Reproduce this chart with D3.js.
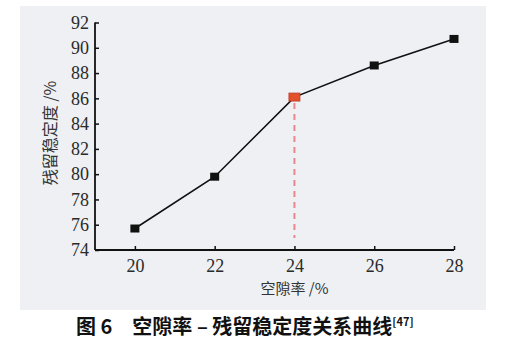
<!DOCTYPE html>
<html><head><meta charset="utf-8">
<script src="https://cdn.jsdelivr.net/npm/d3@7"></script>
<style>
html,body{margin:0;padding:0;background:#fff;}svg{display:block;}
.tick text{font-family:"Liberation Serif","Times New Roman","DejaVu Serif",serif !important;}
</style>
</head><body>
<svg id="c" width="507" height="357"></svg>
<script>
const voidRatio = [20, 22, 24, 26, 28];
const stability = [75.7, 79.8, 86.1, 88.6, 90.7];
const xTicks = [20, 22, 24, 26, 28];
const yTicks = [74, 76, 78, 80, 82, 84, 86, 88, 90, 92];
const highlightIndex = 2;
const xTitle = "空隙率 /%";
const yTitle = "残留稳定度 /%";
const caption = "图 6　空隙率 – 残留稳定度关系曲线";
const captionRef = "[47]";

const svg = d3.select("#c");
svg.append("rect").attr("x", 20).attr("y", 6).attr("width", 466).attr("height", 304).attr("fill", "#eef0f4");

const x = d3.scaleLinear().domain([19, 28]).range([95, 454]);
const y = d3.scaleLinear().domain([74, 92]).range([250, 22.5]);

const gx = svg.append("g").attr("transform", "translate(0,250)")
  .call(d3.axisBottom(x).tickValues(xTicks).tickSize(-4).tickPadding(9).tickFormat(d3.format("d")));
const gy = svg.append("g").attr("transform", "translate(95,0)")
  .call(d3.axisLeft(y).tickValues(yTicks).tickSize(-4).tickPadding(6).tickFormat(d3.format("d")));
[gx, gy].forEach(g => {
  g.attr("font-size", 18);
  g.select(".domain").attr("stroke", "#111").attr("stroke-width", 1.8);
  g.selectAll(".tick line").attr("stroke", "#111").attr("stroke-width", 1.5);
  g.selectAll(".tick text").attr("fill", "#2a2a2a").attr("font-size", 18);
});
gx.select(".domain").attr("d", "M95,0H454");
gy.select(".domain").attr("d", "M0,250V22.5");

const pts = voidRatio.map((v, i) => ({ v, s: stability[i], i }));
const hp = pts[highlightIndex];
svg.append("line").attr("x1", x(hp.v)).attr("x2", x(hp.v)).attr("y1", y(hp.s) + 6).attr("y2", 238)
  .attr("stroke", "#e8888c").attr("stroke-width", 2).attr("stroke-dasharray", "6,5");

svg.append("path").datum(pts)
  .attr("d", d3.line().x(d => x(d.v)).y(d => y(d.s)))
  .attr("fill", "none").attr("stroke", "#111").attr("stroke-width", 1.6);

svg.selectAll("rect.m").data(pts).join("rect").attr("class", "m")
  .attr("x", d => x(d.v) - (d.i === highlightIndex ? 5.5 : 4.5))
  .attr("y", d => y(d.s) - 4)
  .attr("width", d => d.i === highlightIndex ? 11 : 9)
  .attr("height", 8)
  .attr("fill", d => d.i === highlightIndex ? "#e2502c" : "#111")
  .attr("stroke", d => d.i === highlightIndex ? "#c03a20" : "none")
  .attr("stroke-width", 0.8);

const cjk = "'Noto Sans CJK SC', 'Noto Sans CJK JP', sans-serif";
svg.append("text").attr("x", x(24)).attr("y", 294).attr("text-anchor", "middle")
  .style("font-family", cjk).attr("font-size", 15).attr("fill", "#333").text(xTitle);
svg.append("text").attr("transform", "translate(56,133) rotate(-90)").attr("text-anchor", "middle")
  .style("font-family", cjk).attr("font-size", 16).attr("fill", "#333").text(yTitle);

const cap = svg.append("text").attr("x", 76).attr("y", 334)
  .style("font-family", cjk).attr("font-size", 20).attr("font-weight", "bold").attr("fill", "#111");
cap.append("tspan").text(caption);
cap.append("tspan").attr("dy", -8).attr("font-size", 11).text(captionRef);
</script>
</body></html>
